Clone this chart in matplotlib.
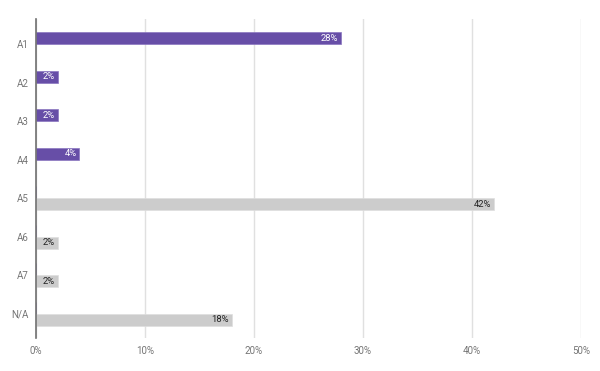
import matplotlib
matplotlib.use('Agg')
import matplotlib.pyplot as plt
import numpy as np

categories = ['A1', 'A2', 'A3', 'A4', 'A5', 'A6', 'A7', 'N/A']
purple_vals = [28, 2, 2, 4, 0, 0, 0, 0]
gray_vals = [0, 0, 0, 0, 42, 2, 2, 18]
x_ticks = [0, 10, 20, 30, 40, 50]

plt.rcParams['font.family'] = ['Roboto', 'DejaVu Sans']

fig = plt.figure(figsize=(6, 3.71), dpi=100)
ax = fig.add_axes([0.0595, 0.089, 0.9085, 0.861])

y = np.arange(len(categories))
h = 0.31
bars1 = ax.barh(y - h / 2, purple_vals, height=h, color='#674ea7', edgecolor='#8a76c0', linewidth=0.5, zorder=3)
bars2 = ax.barh(y + h / 2, gray_vals, height=h, color='#cccccc', edgecolor='#dedede', linewidth=0.5, zorder=3)

for b, v in zip(bars1, purple_vals):
    if v > 0:
        ax.text(v - 0.25, b.get_y() + b.get_height() / 2, f'{v}%', ha='right', va='center',
                color='white', fontsize=6.8, zorder=4)
for b, v in zip(bars2, gray_vals):
    if v > 0:
        ax.text(v - 0.25, b.get_y() + b.get_height() / 2, f'{v}%', ha='right', va='center',
                color='#222222', fontsize=6.8, zorder=4)

ax.set_xlim(0, 50)
ax.set_ylim(7.63, -0.66)
ax.set_xticks(x_ticks)
ax.set_xticklabels([f'{t}%' for t in x_ticks])
ax.set_yticks(y)
ax.set_yticklabels(categories)
ax.tick_params(length=0, labelsize=7, labelcolor='#757575')
ax.tick_params(axis='x', pad=6)
ax.tick_params(axis='y', pad=5)

ax.grid(axis='x', color='#e0e0e0', linewidth=1, zorder=0)
for s in ['top', 'right', 'bottom']:
    ax.spines[s].set_visible(False)
ax.spines['left'].set_color('#707070')
ax.spines['left'].set_linewidth(1.2)
ax.spines['left'].set_zorder(5)

fig.savefig('out.png', dpi=100)
